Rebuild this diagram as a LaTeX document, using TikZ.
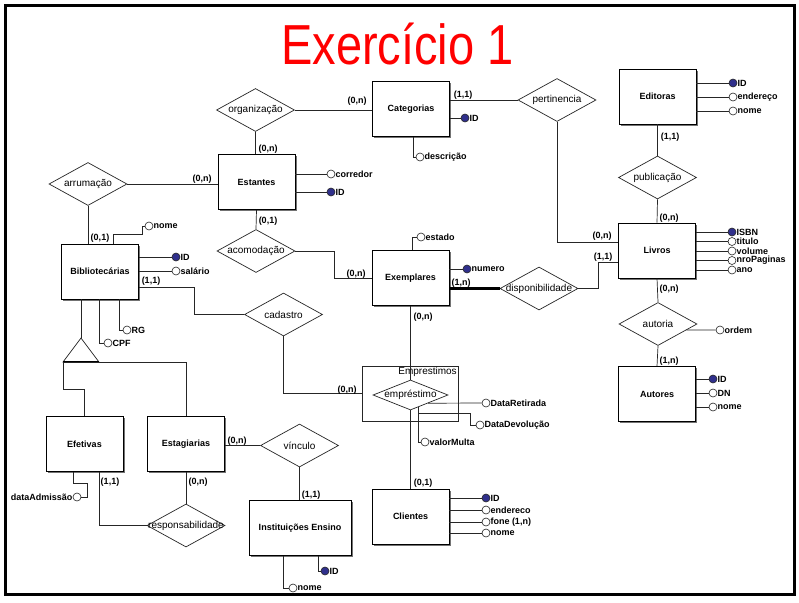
\documentclass[tikz,border=0pt]{standalone}
\usepackage{fontspec}
\setmainfont{Liberation Sans}
\usepackage{graphicx}
\usepackage{xcolor}
\usepackage{tikz}
\usetikzlibrary{shapes.geometric,shadows}

\definecolor{keyblue}{RGB}{48,48,140}
\definecolor{titlered}{RGB}{255,0,0}

\begin{document}
\begin{tikzpicture}[
  x=1pt, y=-1pt,
  % ---- boxes -------------------------------------------------------------
  entity/.style={
    draw=black, line width=0.8pt, fill=white, inner sep=1pt,
    minimum width=77pt, minimum height=55pt,
    font=\bfseries\fontsize{9}{10}\selectfont,
    drop shadow={shadow xshift=1.5pt, shadow yshift=-1.5pt, fill=black!55, opacity=1}},
  relation/.style={
    diamond, draw=black!85, line width=0.7pt, fill=white, inner sep=0pt,
    minimum width=78pt, minimum height=43pt},
  rlabel/.style={font=\fontsize{10}{11}\selectfont, inner sep=0pt},
  % ---- attributes --------------------------------------------------------
  attr/.style={
    circle, draw=black!85, line width=0.6pt, fill=white, inner sep=0pt,
    minimum size=8pt, label distance=1.5pt},
  keyattr/.style={attr, fill=keyblue},
  alabel/.style={font=\bfseries\fontsize{9}{10}\selectfont, inner sep=0pt},
  card/.style={font=\bfseries\fontsize{9}{10}\selectfont, inner sep=0pt},
  % ---- edges -------------------------------------------------------------
  link/.style={draw=black!85, line width=0.7pt},
]

\fill[white] (0,0) rectangle (799,602);
\useasboundingbox (0,0) rectangle (799,602);
\draw[line width=3pt] (5,6) rectangle (794,594);

\node[text=titlered, font=\fontsize{47}{47}\selectfont, anchor=base, inner sep=0pt]
  (title) at (397.5,64) {\scalebox{1}[1.2]{Exercício 1}};

% ---- entities --------------------------------------------------------------
\node[entity] (cat)  at (411,109)   {Categorias};
\node[entity] (est)  at (256.5,182) {Estantes};
\node[entity] (edi)  at (657.5,96.5) {Editoras};
\node[entity] (liv)  at (657,250.5) {Livros};
\node[entity] (aut)  at (657,394)   {Autores};
\node[entity] (exe)  at (410.5,278) {Exemplares};
\node[entity] (bib)  at (100,271.5) {Bibliotecárias};
\node[entity] (efe)  at (84.5,444)  {Efetivas};
\node[entity] (estg) at (186,444)   {Estagiarias};
\node[entity, minimum width=102pt] (ins) at (300,528) {Instituições Ensino};
\node[entity] (cli)  at (410.5,516.5) {Clientes};

% ---- aggregation -----------------------------------------------------------
\node[draw=black!85, line width=0.8pt, minimum width=96pt, minimum height=55pt] (agg) at (410,393.5) {};
\node[rlabel, anchor=north east, inner sep=1.5pt] (agglbl) at (agg.north east) {Emprestimos};

% ---- relationships ---------------------------------------------------------
\node[relation, label={[rlabel]center:organização}]     (org)  at (255.5,110) {};
\node[relation, label={[rlabel]center:pertinencia}]     (per)  at (557,100)   {};
\node[relation, label={[rlabel]center:publicação}]      (pub)  at (657.5,177.5) {};
\node[relation, label={[rlabel]center:arrumação}]       (arr)  at (88,184)    {};
\node[relation, label={[rlabel]center:acomodação}]      (aco)  at (256,251)   {};
\node[relation, label={[rlabel]center:cadastro}]        (cad)  at (283.5,314.5) {};
\node[relation, label={[rlabel]center:disponibilidade}] (dis)  at (539,288.5) {};
\node[relation, label={[rlabel]center:autoria}]         (autr) at (658,324)   {};
\node[relation, label={[rlabel]center:vínculo}]         (vin)  at (299.5,445.5) {};
\node[relation, label={[rlabel]center:responsabilidade}] (res) at (186,525.5) {};
\node[relation, minimum width=75pt, minimum height=30pt,
      label={[rlabel]center:empréstimo}]                (emp)  at (410.5,395) {};

% ---- attributes ------------------------------------------------------------
\node[keyattr, label={[alabel]right:ID}]        (catid)  at (465,118) {};
\node[attr,    label={[alabel]right:descrição}] (catds)  at (420,157) {};

\node[attr,    label={[alabel]right:corredor}]  (estco)  at (331,174) {};
\node[keyattr, label={[alabel]right:ID}]        (estid)  at (331,192) {};

\node[keyattr, label={[alabel]right:ID}]        (ediid)  at (733,83)  {};
\node[attr,    label={[alabel]right:endereço}]  (edien)  at (733,97)  {};
\node[attr,    label={[alabel]right:nome}]      (edino)  at (733,111) {};

\node[keyattr, label={[alabel]right:ISBN}]       (livis) at (732,232) {};
\node[attr,    label={[alabel]right:titulo}]     (livti) at (732,241.5) {};
\node[attr,    label={[alabel]right:volume}]     (livvo) at (732,251) {};
\node[attr,    label={[alabel]right:nroPaginas}] (livnr) at (732,260.5) {};
\node[attr,    label={[alabel]right:ano}]        (livan) at (732,270) {};

\node[attr,    label={[alabel]right:ordem}]     (ordem)  at (720,330) {};

\node[keyattr, label={[alabel]right:ID}]        (autid)  at (713,379) {};
\node[attr,    label={[alabel]right:DN}]        (autdn)  at (713,393) {};
\node[attr,    label={[alabel]right:nome}]      (autno)  at (713,407) {};

\node[attr,    label={[alabel]right:estado}]    (exees)  at (421,237) {};
\node[keyattr, label={[alabel]right:numero}]    (exenu)  at (467,269) {};

\node[attr,    label={[alabel]right:nome}]      (bibno)  at (149,226) {};
\node[keyattr, label={[alabel]right:ID}]        (bibid)  at (176,257) {};
\node[attr,    label={[alabel]right:salário}]   (bibsa)  at (176,271) {};
\node[attr,    label={[alabel]right:RG}]        (bibrg)  at (127,330) {};
\node[attr,    label={[alabel]right:CPF}]       (bibcp)  at (108,343) {};

\node[attr,    label={[alabel]left:dataAdmissão}] (efeda) at (77,497) {};

\node[keyattr, label={[alabel]right:ID}]        (insid)  at (325,571) {};
\node[attr,    label={[alabel]right:nome}]      (insno)  at (293,588) {};

\node[keyattr, label={[alabel]right:ID}]         (cliid) at (486,498) {};
\node[attr,    label={[alabel]right:endereco}]   (clien) at (486,510) {};
\node[attr,    label={[alabel]right:fone (1,n)}] (clifo) at (486,522) {};
\node[attr,    label={[alabel]right:nome}]       (clino) at (486,533) {};

\node[attr,    label={[alabel]right:DataRetirada}]  (empdr) at (486,403) {};
\node[attr,    label={[alabel]right:DataDevolução}] (empdd) at (480,425) {};
\node[attr,    label={[alabel]right:valorMulta}]    (empvm) at (425,442) {};

% ---- specialization --------------------------------------------------------
\coordinate (isa)  at (81,338);
\coordinate (isaL) at (63,362);
\draw[link, fill=white] (isa) -- (isaL) -- ++(36,0) -- cycle;
\draw[line width=1.6pt] (isaL) -- ++(36,0);
\draw[link] ([xshift=-19pt]bib.south) -- (isa);
\draw[link] (isaL) -- (isaL -| estg.north) -- (estg.north);
\draw[link] (isaL) -- ++(0,27) -| (efe.north);

% ---- relationship links ----------------------------------------------------
\draw[link] (org.east) -- (org.east -| cat.west);
\draw[link] (org.south) -- (org.south |- est.north);
\draw[link] (cat.east |- per.west) -- (per.west);
\draw[link] (per.south) |- ([yshift=8pt]liv.west);
\draw[link] (edi.south) -- (pub.north);
\draw[link] (pub.south) -- (liv.north);
\draw[link] (dis.east) -- ++(20,0) |- ([yshift=-11.5pt]liv.west);
\draw[line width=2.4pt] (dis.west -| exe.east) -- (dis.west);
\draw[link] (liv.south) -- (autr.north);
\draw[link] (autr.south) -- (aut.north);
\draw[link] (arr.east) -- (arr.east -| est.west);
\draw[link] (arr.south) -- (arr.south |- bib.north);
\draw[link] (est.south) -- (aco.north);
\draw[link] (aco.east) -- ++(39,0) |- (exe.west);
\draw[link] ([yshift=-15.5pt]bib.east) -- ++(55,0) |- (cad.west);
\draw[link] (cad.south) |- (agg.west);
\draw[link] (exe.south) -- (emp.north);
\draw[link] (emp.south) -- (emp.south |- cli.north);
\draw[link] (estg.east |- vin.west) -- (vin.west);
\draw[link] (vin.south) -- (vin.south |- ins.north);
\draw[link] ([xshift=14.5pt]efe.south) |- (res.west);
\draw[link] (estg.south) -- (res.north);

% ---- attribute links -------------------------------------------------------
\draw[link] (cat.east |- catid) -- (catid);
\draw[link] ([xshift=2pt]cat.south) |- (catds);
\foreach \n in {estco,estid} \draw[link] (est.east |- \n) -- (\n);
\foreach \n in {ediid,edien,edino} \draw[link] (edi.east |- \n) -- (\n);
\foreach \n in {livis,livti,livvo,livnr,livan} \draw[link] (liv.east |- \n) -- (\n);
\draw[link] (autr.-12) -- (ordem);
\foreach \n in {autid,autdn,autno} \draw[link] (aut.east |- \n) -- (\n);
\draw[link] ([xshift=1.5pt]exe.north) |- (exees);
\draw[link] (exe.east |- exenu) -- (exenu);
\draw[link] ([xshift=13pt]bib.north) -- ++(0,-9) -- ++(29,0) |- (bibno);
\foreach \n in {bibid,bibsa} \draw[link] (bib.east |- \n) -- (\n);
\draw[link] ([xshift=19pt]bib.south) |- (bibrg);
\draw[link] ([xshift=-1pt]bib.south) |- (bibcp);
\draw[link] ([xshift=-11.5pt]efe.south) -- ++(0,11) -- ++(14,0) |- (efeda);
\draw[link] ([xshift=18pt]ins.south) |- (insid);
\draw[link] ([xshift=-17pt]ins.south) |- (insno);
\foreach \n in {cliid,clien,clifo,clino} \draw[link] (cli.east |- \n) -- (\n);
\coordinate (empk) at ([xshift=7.5pt,yshift=-12pt]emp.center);
\draw[link] (emp.-25) -- (empdr);
\draw[link] (empk) |- (empvm);
\draw[link] (empk) ++(0,6) -- ++(52,0) |- (empdd);

% ---- cardinalities ---------------------------------------------------------
\node[card] (k1)  at (357,101) {(0,n)};
\node[card] (k2)  at (268,149) {(0,n)};
\node[card] (k3)  at (463,95)  {(1,1)};
\node[card] (k4)  at (602,236) {(0,n)};
\node[card] (k5)  at (670,137) {(1,1)};
\node[card] (k6)  at (669,218) {(0,n)};
\node[card] (k7)  at (603,257) {(1,1)};
\node[card] (k8)  at (669,289) {(0,n)};
\node[card] (k9)  at (669,361) {(1,n)};
\node[card] (k10) at (202,179) {(0,n)};
\node[card] (k11) at (100,238) {(0,1)};
\node[card] (k12) at (268,221) {(0,1)};
\node[card] (k13) at (356,274) {(0,n)};
\node[card] (k14) at (461,283) {(1,n)};
\node[card] (k15) at (423,317) {(0,n)};
\node[card] (k16) at (151,281) {(1,1)};
\node[card] (k17) at (347,390) {(0,n)};
\node[card] (k18) at (423,483) {(0,1)};
\node[card] (k19) at (237,441) {(0,n)};
\node[card] (k20) at (311,495) {(1,1)};
\node[card] (k21) at (110,482) {(1,1)};
\node[card] (k22) at (198,482) {(0,n)};

\end{tikzpicture}
\end{document}
